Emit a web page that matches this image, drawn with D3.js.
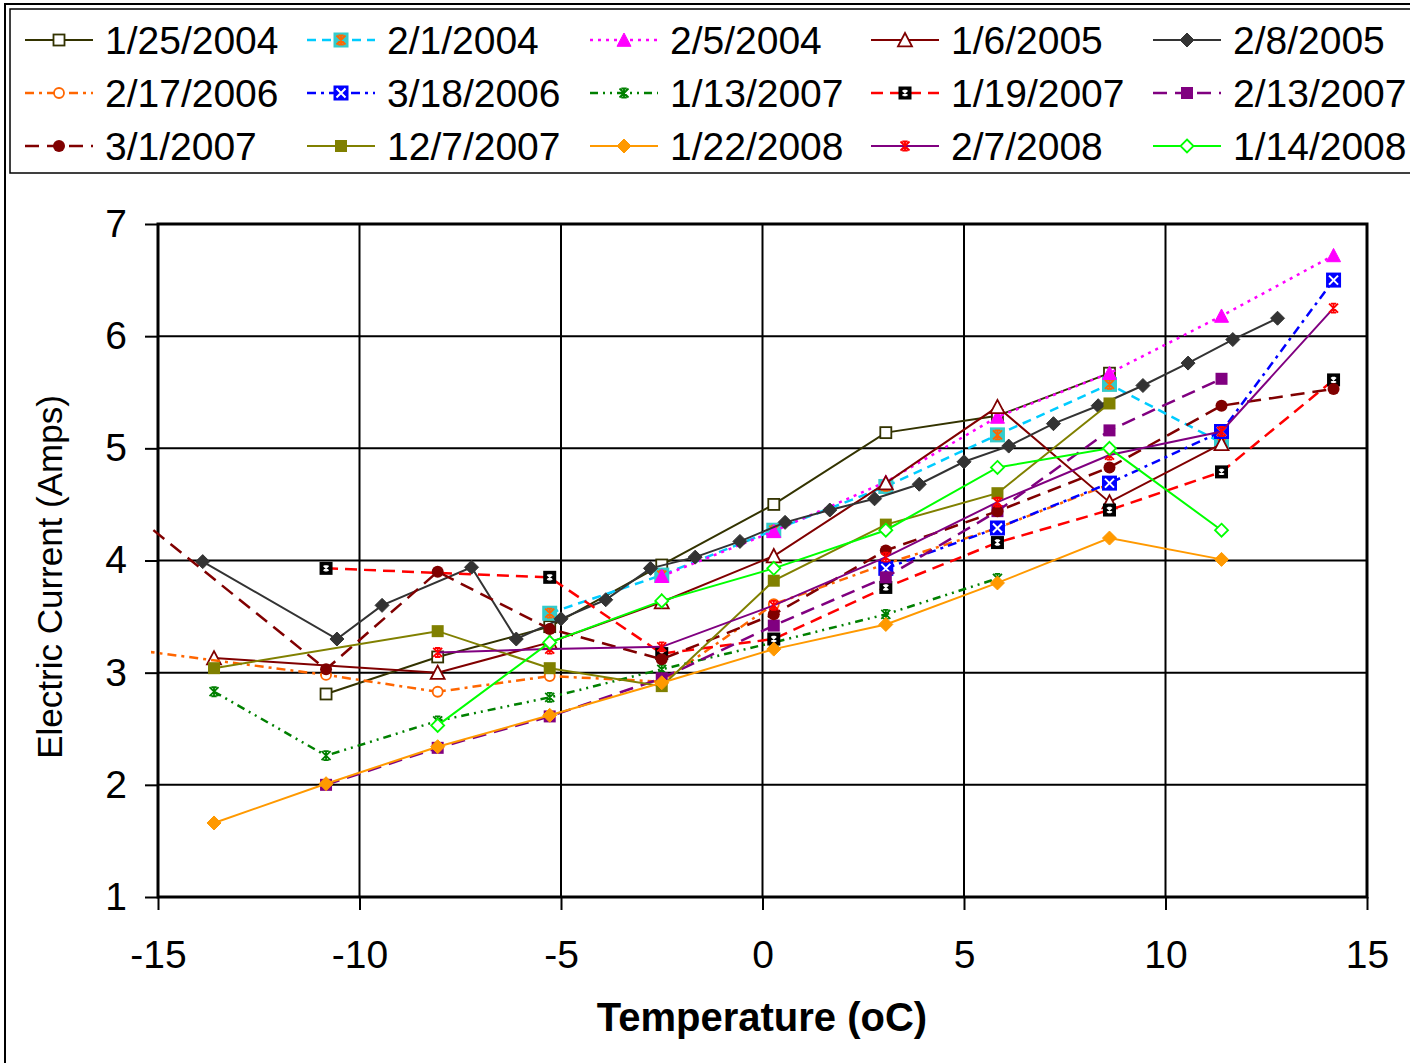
<!DOCTYPE html>
<html>
<head>
<meta charset="utf-8">
<script src="https://cdn.jsdelivr.net/npm/d3@7"></script>
<style>
  body { margin: 0; background: #fff; }
  svg { display: block; }
  text { font-family: "Liberation Sans", Arial, sans-serif; fill: #000; }
</style>
</head>
<body>
<script>
// ---- data (temperature in oC, current in Amps) ----
var names = ["1/25/2004", "2/1/2004", "2/5/2004", "1/6/2005", "2/8/2005",
             "2/17/2006", "3/18/2006", "1/13/2007", "1/19/2007", "2/13/2007",
             "3/1/2007", "12/7/2007", "1/22/2008", "2/7/2008", "1/14/2008"];

var t_012504 = [-10.83, -8.06, -5.28, -2.5, 0.28, 3.06, 5.83, 8.61];
var a_012504 = [2.81, 3.14, 3.41, 3.96, 4.50, 5.14, 5.29, 5.67];

var t_020104 = [-5.28, -2.5, 0.28, 3.06, 5.83, 8.61, 11.39];
var a_020104 = [3.53, 3.87, 4.27, 4.66, 5.12, 5.57, 5.05];

var t_020504 = [-2.5, 0.28, 3.06, 5.83, 8.61, 11.39, 14.17];
var a_020504 = [3.86, 4.26, 4.70, 5.28, 5.67, 6.18, 6.72];

var t_010605 = [-13.61, -8.06, -5.28, -2.5, 0.28, 3.06, 5.83, 8.61, 11.39];
var a_010605 = [3.13, 3.00, 3.27, 3.63, 4.04, 4.69, 5.37, 4.52, 5.04];

var t_020805 = [-13.89, -10.56, -9.44, -7.22, -6.11, -5.0, -3.89, -2.78, -1.67, -0.56, 0.56,
                1.67, 2.78, 3.89, 5.0, 6.11, 7.22, 8.33, 9.44, 10.56, 11.67, 12.78];
var a_020805 = [3.99, 3.30, 3.60, 3.94, 3.30, 3.48, 3.65, 3.93, 4.03, 4.17, 4.34,
                4.45, 4.55, 4.68, 4.88, 5.02, 5.22, 5.38, 5.56, 5.76, 5.97, 6.16];

var t_021706 = [-16.39, -10.83, -8.06, -5.28, -2.5, 0.28, 3.06, 5.83, 8.61];
var a_021706 = [3.24, 2.98, 2.83, 2.97, 2.92, 3.61, 3.97, 4.29, 4.68];

var t_031806 = [3.06, 5.83, 8.61, 11.39, 14.17];
var a_031806 = [3.93, 4.29, 4.69, 5.15, 6.50];

var t_011307 = [-13.61, -10.83, -8.06, -5.28, -2.5, 0.28, 3.06, 5.83];
var a_011307 = [2.83, 2.26, 2.57, 2.78, 3.03, 3.27, 3.52, 3.84];

var t_011907 = [-10.83, -5.28, -2.5, 0.28, 3.06, 5.83, 8.61, 11.39, 14.17];
var a_011907 = [3.93, 3.85, 3.17, 3.30, 3.76, 4.16, 4.45, 4.79, 5.61];

var t_021307 = [-10.83, -8.06, -5.28, -2.5, 0.28, 3.06, 5.83, 8.61, 11.39];
var a_021307 = [2.00, 2.33, 2.61, 2.95, 3.42, 3.85, 4.44, 5.16, 5.62];

var t_030107 = [-16.39, -10.83, -8.06, -5.28, -2.5, 0.28, 3.06, 5.83, 8.61, 11.39, 14.17];
var a_030107 = [4.64, 3.03, 3.90, 3.39, 3.12, 3.52, 4.09, 4.44, 4.83, 5.38, 5.53];

var t_120707 = [-13.61, -8.06, -5.28, -2.5, 0.28, 3.06, 5.83, 8.61];
var a_120707 = [3.04, 3.37, 3.04, 2.88, 3.82, 4.32, 4.60, 5.40];

var t_012208 = [-13.61, -10.83, -8.06, -5.28, -2.5, 0.28, 3.06, 5.83, 8.61, 11.39];
var a_012208 = [1.66, 2.01, 2.34, 2.62, 2.91, 3.21, 3.43, 3.80, 4.20, 4.01];

var t_020708 = [-8.06, -5.28, -2.5, 0.28, 3.06, 5.83, 8.61, 11.39, 14.17];
var a_020708 = [3.18, 3.21, 3.23, 3.60, 4.03, 4.52, 4.94, 5.15, 6.25];

var t_011408 = [-8.06, -5.28, -2.5, 0.28, 3.06, 5.83, 8.61, 11.39];
var a_011408 = [2.53, 3.27, 3.64, 3.93, 4.27, 4.83, 5.00, 4.27];

var temps = [t_012504, t_020104, t_020504, t_010605, t_020805, t_021706, t_031806, t_011307,
             t_011907, t_021307, t_030107, t_120707, t_012208, t_020708, t_011408];
var amps = [a_012504, a_020104, a_020504, a_010605, a_020805, a_021706, a_031806, a_011307,
            a_011907, a_021307, a_030107, a_120707, a_012208, a_020708, a_011408];

var xTicks = [-15, -10, -5, 0, 5, 10, 15];
var yTicks = [1, 2, 3, 4, 5, 6, 7];

// ---- styles ----
var colors = ["#333300", "#00CCFF", "#FF00FF", "#800000", "#333333",
              "#FF6600", "#0000FF", "#008000", "#FF0000", "#800080",
              "#800000", "#808000", "#FF9900", "#800080", "#00FF00"];
var dashes = [null, "9,6", "3,5", null, null,
              "9,5,3,5", "9,5,3,5", "8,5,2,5,2,5", "12,7", "14,8",
              "14,8", null, null, null, null];
var markers = ["sqOpen", "sqAst", "tri", "triOpen", "dia",
               "circOpen", "sqX", "ast", "sqBlk", "sq",
               "circ", "sq", "dia", "astRed", "diaOpen"];

var margin = {left: 158, right: 1367, top: 224, bottom: 897};

var svg = d3.select("body").append("svg")
  .attr("width", 1410)
  .attr("height", 1063);

// chart area border + legend box
svg.append("rect").attr("x", 5).attr("y", 4).attr("width", 1440).attr("height", 1100)
  .attr("fill", "none").attr("stroke", "#000").attr("stroke-width", 2);
svg.append("rect").attr("x", 10).attr("y", 9).attr("width", 1430).attr("height", 164)
  .attr("fill", "none").attr("stroke", "#000").attr("stroke-width", 1.5);

var x = d3.scaleLinear().domain([-15, 15]).range([margin.left, margin.right]);
var y = d3.scaleLinear().domain([1, 7]).range([margin.bottom, margin.top]);

// gridlines
svg.append("g").selectAll("line").data(yTicks.slice(1, -1)).enter().append("line")
  .attr("x1", margin.left).attr("x2", margin.right)
  .attr("y1", function(d) { return y(d); }).attr("y2", function(d) { return y(d); })
  .attr("stroke", "#000").attr("stroke-width", 2);
svg.append("g").selectAll("line").data(xTicks.slice(1, -1)).enter().append("line")
  .attr("y1", margin.top).attr("y2", margin.bottom)
  .attr("x1", function(d) { return x(d); }).attr("x2", function(d) { return x(d); })
  .attr("stroke", "#000").attr("stroke-width", 2);

// axes
var yAxis = svg.append("g")
  .attr("transform", "translate(" + margin.left + ",0)")
  .call(d3.axisLeft(y).tickValues(yTicks).tickSize(13).tickPadding(18)
    .tickFormat(function(d) { return String(d); }));
var xAxis = svg.append("g")
  .attr("transform", "translate(0," + margin.bottom + ")")
  .call(d3.axisBottom(x).tickValues(xTicks).tickSize(13).tickPadding(30)
    .tickFormat(function(d) { return String(d); }));
[xAxis, yAxis].forEach(function(a) {
  a.select(".domain").remove();
  a.selectAll("line").attr("stroke", "#000").attr("stroke-width", 2);
  a.selectAll("text").style("font-size", "39px")
    .style("font-family", '"Liberation Sans", Arial, sans-serif').attr("fill", "#000");
});

// plot area border
svg.append("rect")
  .attr("x", margin.left).attr("y", margin.top)
  .attr("width", margin.right - margin.left).attr("height", margin.bottom - margin.top)
  .attr("fill", "none").attr("stroke", "#000").attr("stroke-width", 3);

// axis titles
svg.append("text")
  .attr("x", 762).attr("y", 1031)
  .attr("text-anchor", "middle")
  .style("font-size", "40px").style("font-weight", "bold")
  .text("Temperature (oC)");
svg.append("text")
  .attr("transform", "translate(62,577) rotate(-90)")
  .attr("text-anchor", "middle")
  .style("font-size", "35px")
  .text("Electric Current (Amps)");

// markers
function asterisk(g, cx, cy, r, col, w) {
  var p = "M" + (cx - r) + "," + (cy - r) + "L" + (cx + r) + "," + (cy + r) +
          "M" + (cx - r) + "," + (cy + r) + "L" + (cx + r) + "," + (cy - r) +
          "M" + cx + "," + (cy - r) + "L" + cx + "," + (cy + r) +
          "M" + (cx - r * 0.6) + "," + (cy - r) + "L" + (cx + r * 0.6) + "," + (cy - r) +
          "M" + (cx - r * 0.6) + "," + (cy + r) + "L" + (cx + r * 0.6) + "," + (cy + r);
  g.append("path").attr("d", p).attr("stroke", col).attr("stroke-width", w).attr("fill", "none");
}

function drawMarker(g, type, col, cx, cy) {
  var s;
  if (type == "sqOpen") {
    g.append("rect").attr("x", cx - 5.5).attr("y", cy - 5.5).attr("width", 11).attr("height", 11)
      .attr("fill", "#fff").attr("stroke", col).attr("stroke-width", 1.8);
  } else if (type == "sqAst") {
    g.append("rect").attr("x", cx - 7.5).attr("y", cy - 7.5).attr("width", 15).attr("height", 15)
      .attr("fill", "#33CCCC");
    asterisk(g, cx, cy, 4.5, "#FF6600", 1.8);
  } else if (type == "tri" || type == "triOpen") {
    s = 7;
    g.append("path")
      .attr("d", "M" + cx + "," + (cy - s) + "L" + (cx + s) + "," + (cy + s * 0.9) +
                 "L" + (cx - s) + "," + (cy + s * 0.9) + "Z")
      .attr("fill", type == "tri" ? col : "#fff")
      .attr("stroke", col).attr("stroke-width", type == "tri" ? 1 : 1.8);
  } else if (type == "dia" || type == "diaOpen") {
    s = type == "dia" ? 7 : 6.5;
    g.append("path")
      .attr("d", "M" + cx + "," + (cy - s) + "L" + (cx + s) + "," + cy +
                 "L" + cx + "," + (cy + s) + "L" + (cx - s) + "," + cy + "Z")
      .attr("fill", type == "dia" ? col : "#fff")
      .attr("stroke", col).attr("stroke-width", type == "dia" ? 1 : 1.8);
  } else if (type == "circOpen") {
    g.append("circle").attr("cx", cx).attr("cy", cy).attr("r", 5)
      .attr("fill", "#fff").attr("stroke", col).attr("stroke-width", 1.8);
  } else if (type == "circ") {
    g.append("circle").attr("cx", cx).attr("cy", cy).attr("r", 6).attr("fill", col);
  } else if (type == "sqX") {
    g.append("rect").attr("x", cx - 7.5).attr("y", cy - 7.5).attr("width", 15).attr("height", 15)
      .attr("fill", "#0000FF");
    g.append("path")
      .attr("d", "M" + (cx - 4.5) + "," + (cy - 4.5) + "L" + (cx + 4.5) + "," + (cy + 4.5) +
                 "M" + (cx - 4.5) + "," + (cy + 4.5) + "L" + (cx + 4.5) + "," + (cy - 4.5))
      .attr("stroke", "#fff").attr("stroke-width", 2);
  } else if (type == "sqBlk") {
    g.append("rect").attr("x", cx - 6.5).attr("y", cy - 6.5).attr("width", 13).attr("height", 13)
      .attr("fill", "#000");
    asterisk(g, cx, cy, 2.5, "#fff", 1.4);
  } else if (type == "sq") {
    g.append("rect").attr("x", cx - 6).attr("y", cy - 6).attr("width", 12).attr("height", 12)
      .attr("fill", col);
  } else if (type == "ast") {
    asterisk(g, cx, cy, 4.5, col, 1.8);
  } else if (type == "astRed") {
    asterisk(g, cx, cy, 4.5, "#FF0000", 1.8);
  }
}

// clip lines to the chart (they run a little past the left axis)
svg.append("clipPath").attr("id", "clip")
  .append("rect").attr("x", 151).attr("y", 180).attr("width", 1230).attr("height", 730);

var line = d3.line()
  .x(function(d) { return x(d[0]); })
  .y(function(d) { return y(d[1]); });

names.forEach(function(name, i) {
  var pts = temps[i].map(function(t, j) { return [t, amps[i][j]]; });
  var g = svg.append("g").attr("class", "series");
  g.append("path")
    .datum(pts)
    .attr("clip-path", "url(#clip)")
    .attr("fill", "none")
    .attr("stroke", colors[i])
    .attr("stroke-width", dashes[i] ? 2.5 : 2)
    .attr("stroke-dasharray", dashes[i])
    .attr("d", line);
  pts.forEach(function(p) {
    if (p[0] < -15 || p[0] > 15) return;
    drawMarker(g, markers[i], colors[i], x(p[0]), y(p[1]));
  });
});

// legend
var legCols = [25, 307, 590, 871, 1153];
var legRows = [40, 93, 146];
names.forEach(function(name, i) {
  var lx = legCols[i % 5], ly = legRows[Math.floor(i / 5)];
  var g = svg.append("g").attr("class", "legend");
  g.append("line")
    .attr("x1", lx).attr("x2", lx + 68).attr("y1", ly).attr("y2", ly)
    .attr("stroke", colors[i])
    .attr("stroke-width", dashes[i] ? 2.5 : 2)
    .attr("stroke-dasharray", dashes[i]);
  drawMarker(g, markers[i], colors[i], lx + 34, ly);
  g.append("text")
    .attr("x", lx + 80).attr("y", ly + 14)
    .style("font-size", "39px")
    .text(name);
});
</script>
</body>
</html>
